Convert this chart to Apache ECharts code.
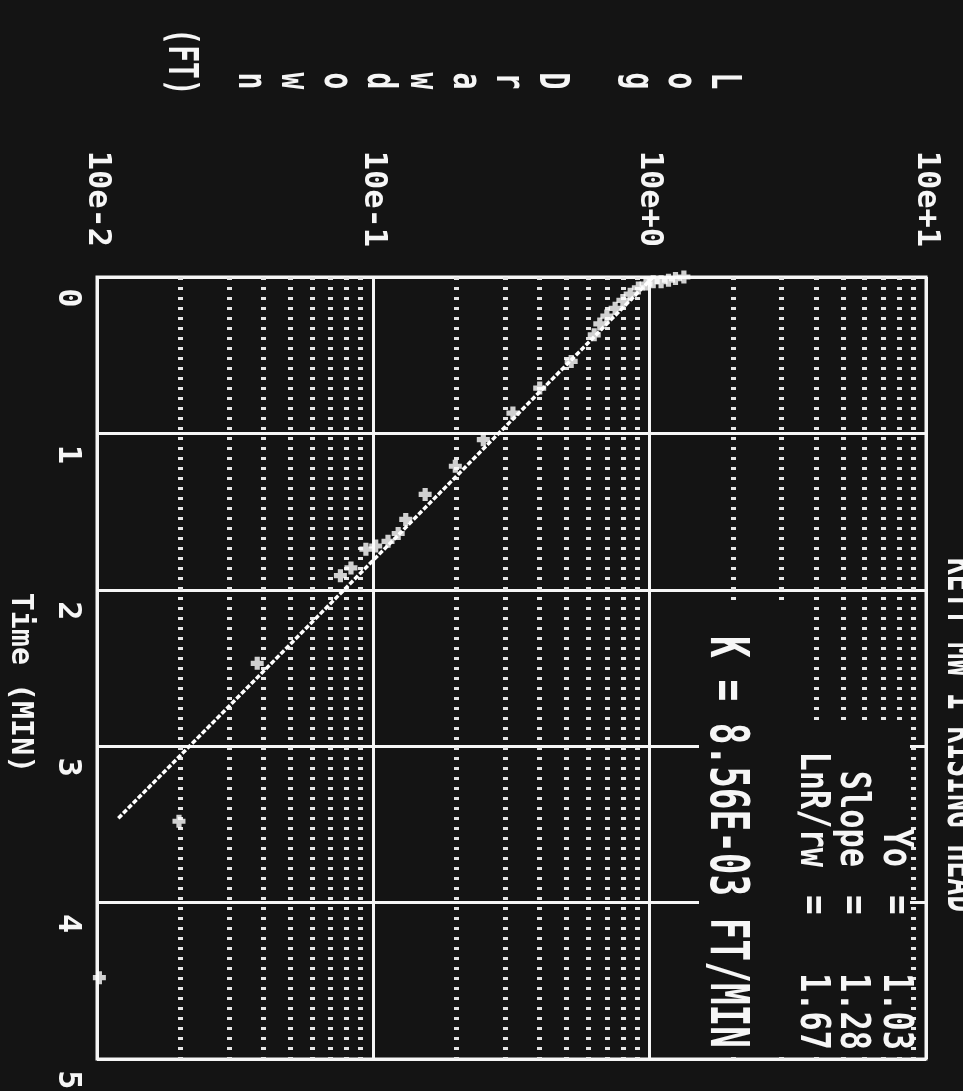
<!DOCTYPE html>
<html>
<head>
<meta charset="utf-8">
<title>Rising head test - log drawdown vs time</title>
<script src="https://cdn.jsdelivr.net/npm/echarts@6/dist/echarts.min.js"></script>
<style>
  html, body { margin: 0; padding: 0; background: #141414; }
  #chart { width: 963px; height: 1091px; }
</style>
</head>
<body>
<div id="chart"></div>
<script>
// Slug test plot (Hvorslev style): log drawdown against elapsed time.
// The sheet is laid out a quarter turn clockwise: time runs down the page,
// drawdown (log scale) runs left to right.

const decadeLabels = ['10e-2', '10e-1', '10e+0', '10e+1'];
const timeLabels = ['0', '1', '2', '3', '4', '5'];

// dotted minor grid at 2..9 inside each decade
const minorDrawdowns = [
  0.02, 0.03, 0.04, 0.05, 0.06, 0.07, 0.08, 0.09,
  0.2, 0.3, 0.4, 0.5, 0.6, 0.7, 0.8, 0.9,
  2, 3, 4, 5, 6, 7, 8, 9
];

// observed readings: [time (min), drawdown (ft)]
const obsTime = [
  0, 0.01, 0.02, 0.03, 0.03, 0.045, 0.07, 0.11, 0.15, 0.20, 0.25, 0.30, 0.37,
  0.54, 0.71, 0.87, 1.04, 1.21, 1.39, 1.55, 1.64, 1.69, 1.72, 1.74, 1.86, 1.91,
  2.47, 3.48, 4.48
];
const obsDrawdown = [
  1.33, 1.24, 1.17, 1.10, 1.03, 0.97, 0.91, 0.85, 0.80, 0.75, 0.70, 0.66, 0.63,
  0.52, 0.40, 0.32, 0.25, 0.198, 0.154, 0.131, 0.123, 0.113, 0.102, 0.094, 0.083, 0.076,
  0.038, 0.0198, 0.0102
];

// straight-line fit through the readings: [time, drawdown] at each end
const fitTime = [0, 3.47];
const fitDrawdown = [1.03, 0.0118];

const fitNames = ['Yo', 'Slope', 'LnR/rw'];
const fitValues = ['1.03', '1.28', '1.67'];
const conductivityText = 'K = 8.56E-03 FT/MIN';
const yAxisTitle = ['L', 'o', 'g', '', 'D', 'r', 'a', 'w', 'd', 'o', 'w', 'n'];
const unitText = '(FT)';
const timeTitle = 'Time (MIN)';
const sheetTitle = 'KETT MW 1 RISING HEAD';

const INK = '#f6f6f6';
const BG = '#141414';
const MONO = '"DejaVu Sans Mono", "Liberation Mono", monospace';
const CW = -Math.PI / 2;  // quarter turn clockwise

function rotatedText(x, y, text, size, opts) {
  opts = opts || {};
  return {
    type: 'text',
    x: x, y: y,
    rotation: CW,
    scaleY: opts.scaleY || 1.4,
    z: 20,
    silent: true,
    style: {
      text: text,
      fill: INK,
      font: 'bold ' + size + 'px ' + MONO,
      align: opts.align || 'center',
      verticalAlign: opts.verticalAlign || 'middle',
      lineHeight: opts.lineHeight
    }
  };
}

const chart = echarts.init(document.getElementById('chart'), null, { renderer: 'canvas' });

const graphics = [
  // cleared panels behind the annotations
  { type: 'rect', z: 15, silent: true, shape: { x: 699, y: 607, width: 92, height: 449 }, style: { fill: BG } },
  { type: 'rect', z: 15, silent: true, shape: { x: 791, y: 727, width: 119, height: 329 }, style: { fill: BG } },
  rotatedText(725, 842, conductivityText, 36, { scaleY: 1.5 }),
  rotatedText(486, 81, yAxisTitle.join('\n'), 28, { scaleY: 1.45, lineHeight: 43 / 1.45 }),
  rotatedText(180, 62, unitText, 28, { scaleY: 1.45 }),
  // sheet heading, running off the right edge of the page
  rotatedText(938, 735, sheetTitle, 28, { scaleY: 1.5, verticalAlign: 'bottom' })
];

// fit statistics block: names right-aligned, '=' column, values right-aligned
const statCols = [895, 852, 812];
fitNames.forEach(function (name, i) {
  graphics.push(rotatedText(statCols[i], 867, name, 32, { scaleY: 1.3, align: 'right' }));
  graphics.push(rotatedText(statCols[i], 905, '=', 32, { scaleY: 1.3 }));
  graphics.push(rotatedText(statCols[i], 1050, fitValues[i], 32, { scaleY: 1.3, align: 'right' }));
});

const option = {
  backgroundColor: BG,
  animation: false,
  textStyle: { fontFamily: MONO },
  grid: {
    left: 97, top: 277, right: 37, bottom: 32,
    show: true, borderColor: INK, borderWidth: 3,
    backgroundColor: 'transparent',
    outerBoundsMode: 'none'
  },
  xAxis: {
    type: 'log',
    logBase: 10,
    min: 0.01,
    max: 10,
    position: 'top',
    axisLine: { show: false },
    axisTick: { show: false },
    splitLine: { show: true, lineStyle: { color: INK, width: 3 } },
    axisLabel: {
      rotate: -90,
      margin: 30,
      color: INK,
      fontSize: 32,
      fontWeight: 'bold',
      fontFamily: MONO,
      showMinLabel: true,
      showMaxLabel: true,
      formatter: function (v, i) { return decadeLabels[i]; }
    }
  },
  yAxis: {
    type: 'value',
    inverse: true,
    min: 0,
    max: 5,
    interval: 1,
    name: timeTitle,
    nameLocation: 'middle',
    nameRotate: -90,
    nameGap: 62,
    nameTextStyle: { color: INK, fontSize: 30, fontWeight: 'bold', fontFamily: MONO, padding: [0, 0, 0, 30] },
    axisLine: { show: false },
    axisTick: { show: false },
    splitLine: { show: true, lineStyle: { color: INK, width: 3 } },
    axisLabel: {
      rotate: -90,
      margin: 14,
      padding: [0, 0, 0, 42],
      color: INK,
      fontSize: 32,
      fontWeight: 'bold',
      fontFamily: MONO,
      showMinLabel: true,
      showMaxLabel: true,
      formatter: function (v, i) { return timeLabels[i]; }
    }
  },
  series: [
    {
      name: 'fit',
      type: 'line',
      z: 3,
      showSymbol: false,
      symbol: 'none',
      silent: true,
      data: fitTime.map(function (t, i) { return [fitDrawdown[i], t]; }),
      lineStyle: { color: '#ffffff', width: 3.5, type: [5, 2] },
      markLine: {
        silent: true,
        symbol: ['none', 'none'],
        label: { show: false },
        z: 1,
        lineStyle: { color: '#e6e6e6', width: 5, type: [3, 7] },
        data: minorDrawdowns.map(function (v) { return { xAxis: v }; })
      }
    },
    {
      name: 'observed',
      type: 'scatter',
      z: 4,
      clip: false,
      silent: true,
      symbol: 'path://M3,0H7V3H10V7H7V10H3V7H0V3H3Z',
      symbolSize: 13,
      itemStyle: { color: '#ffffff' },
      data: obsTime.map(function (t, i) { return [obsDrawdown[i], t]; })
    }
  ],
  graphic: graphics
};

chart.setOption(option);
</script>
</body>
</html>
